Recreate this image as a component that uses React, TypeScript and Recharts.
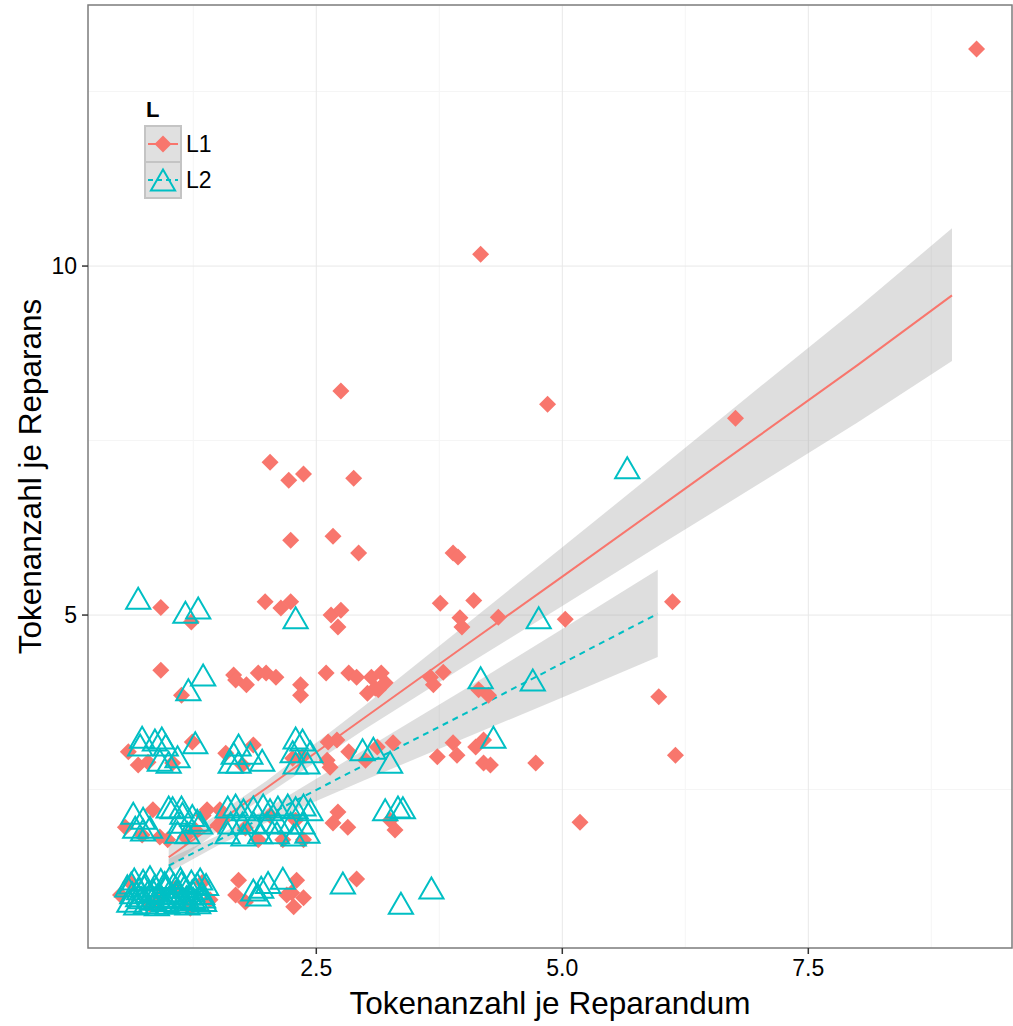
import {
  ComposedChart,
  Scatter,
  Line,
  Area,
  XAxis,
  YAxis,
  CartesianGrid,
  ReferenceArea,
} from "recharts";

// L1 points (jittered)
const l1Points: [number, number][] = [
  [9.21, 13.11], [4.17, 10.17], [2.75, 8.21], [4.85, 8.02], [6.76, 7.82],
  [2.03, 7.19], [2.22, 6.93], [2.37, 7.02], [2.88, 6.96], [2.67, 6.13],
  [2.24, 6.07], [2.93, 5.89], [3.89, 5.89], [3.94, 5.83],
  [0.92, 5.11], [1.23, 4.9], [1.98, 5.19], [2.14, 5.1], [2.24, 5.19],
  [2.65, 5.0], [2.75, 5.07], [2.72, 4.83], [3.76, 5.17], [4.1, 5.21],
  [3.96, 4.96], [3.98, 4.83], [4.35, 4.97], [5.03, 4.94], [6.12, 5.19],
  [0.92, 4.21], [1.13, 3.85], [1.66, 4.14], [1.68, 4.07], [1.79, 4.0],
  [1.91, 4.17], [1.99, 4.17], [2.09, 4.11], [2.34, 4.0], [2.34, 3.85],
  [2.6, 4.17], [2.83, 4.17], [2.91, 4.11], [3.06, 4.11], [3.16, 4.17],
  [3.2, 4.03], [3.1, 3.95], [3.02, 3.88], [3.13, 3.93], [3.66, 4.11],
  [3.69, 4.0], [3.79, 4.18], [4.15, 3.93], [4.25, 3.85], [5.98, 3.83],
  [0.59, 3.04], [0.69, 2.85], [0.79, 2.89], [1.04, 2.88], [1.24, 3.18],
  [1.58, 3.02], [1.86, 3.14], [1.75, 2.85], [2.26, 2.95], [2.36, 2.97],
  [2.62, 3.18], [2.71, 3.21], [2.61, 2.92], [2.64, 2.82], [2.83, 3.04],
  [3.0, 2.92], [3.12, 3.11], [3.28, 3.17], [3.73, 2.97], [3.89, 3.17],
  [3.93, 2.99], [4.12, 3.11], [4.2, 3.21], [4.2, 2.88], [4.27, 2.85],
  [4.73, 2.88], [6.15, 2.99],
  [0.84, 2.21], [0.56, 1.96], [0.73, 1.85], [0.91, 1.82], [0.99, 1.78],
  [1.17, 1.82], [1.35, 2.13], [1.39, 2.21], [1.5, 1.99], [1.27, 1.92],
  [1.55, 2.06], [1.52, 2.21], [1.91, 1.78], [2.16, 1.78], [2.37, 1.78],
  [2.03, 2.13], [1.78, 1.95], [2.29, 2.06], [2.72, 2.18], [2.67, 2.02],
  [2.82, 1.96], [3.25, 2.06], [3.3, 1.92], [5.18, 2.03],
  [1.71, 1.2], [1.68, 0.99], [1.78, 0.89], [2.3, 1.2], [2.25, 1.02],
  [2.27, 0.82], [2.37, 0.95], [2.2, 0.99], [2.91, 1.22], [0.61, 1.17],
  [1.34, 1.17], [0.81, 0.85], [1.22, 0.8], [1.07, 1.09], [0.51, 0.99],
  [0.91, 0.95], [1.42, 0.92],
];

// L2 points (jittered)
const l2Points: [number, number][] = [
  [5.66, 7.11],
  [0.69, 5.24], [1.17, 5.04], [1.3, 5.1], [2.29, 4.96], [4.76, 4.96],
  [1.35, 4.14], [1.2, 3.93], [4.17, 4.1], [4.7, 4.07],
  [0.73, 3.25], [0.71, 3.14], [0.86, 3.21], [0.93, 3.24], [0.97, 3.14],
  [0.91, 2.92], [1.0, 2.89], [1.09, 2.97], [1.27, 3.17], [1.71, 3.14],
  [1.66, 3.02], [1.63, 2.89], [1.71, 2.89], [1.83, 3.02], [1.95, 2.92],
  [2.29, 3.24], [2.36, 3.21], [2.26, 3.04], [2.29, 2.88], [2.41, 2.88],
  [2.44, 3.04], [2.97, 3.07], [3.08, 3.09], [3.25, 2.89], [4.3, 3.25],
  [0.64, 2.16], [0.74, 2.09], [0.66, 1.96], [0.81, 1.96], [0.74, 1.92],
  [1.0, 2.25], [1.04, 2.24], [1.13, 2.25], [1.14, 2.16], [1.24, 2.13],
  [1.12, 2.03], [1.09, 1.89], [1.19, 1.88], [1.29, 2.06], [1.32, 2.02],
  [1.6, 2.25], [1.68, 2.28], [1.76, 2.21], [1.86, 2.25], [1.96, 2.28],
  [2.03, 2.21], [2.11, 2.25], [2.21, 2.28], [2.29, 2.24], [2.37, 2.28],
  [2.44, 2.21], [1.63, 2.02], [1.75, 2.02], [1.86, 2.03], [2.0, 2.02],
  [2.11, 2.03], [2.24, 2.02], [2.36, 2.02], [1.6, 1.88], [1.76, 1.85],
  [1.93, 1.88], [2.1, 1.88], [2.27, 1.85], [2.41, 1.89], [3.2, 2.21],
  [3.33, 2.25], [3.38, 2.24],
  [1.86, 1.06], [1.94, 1.1], [2.01, 1.17], [2.16, 1.23], [1.91, 0.99],
  [2.77, 1.16], [3.36, 0.87], [3.67, 1.09],
  [0.58, 1.12], [0.6, 0.9], [0.63, 1.02], [0.65, 1.22], [0.67, 0.86],
  [0.7, 1.08], [0.72, 0.95], [0.74, 1.2], [0.77, 0.88], [0.79, 1.04],
  [0.81, 1.25], [0.83, 0.93], [0.86, 1.13], [0.88, 0.85], [0.9, 1.01],
  [0.92, 1.21], [0.95, 0.91], [0.97, 1.1], [0.99, 0.87], [1.01, 1.24],
  [1.03, 0.97], [1.05, 1.15], [1.08, 0.89], [1.1, 1.05], [1.12, 1.23],
  [1.14, 0.92], [1.16, 1.11], [1.19, 0.86], [1.21, 1.0], [1.23, 1.19],
  [1.25, 0.94], [1.27, 1.08], [1.3, 0.88], [1.32, 1.22], [1.34, 1.01],
  [1.36, 0.91], [1.38, 1.14], [0.69, 0.98], [0.84, 1.06], [0.96, 1.17],
  [1.07, 1.02], [1.18, 0.96], [1.29, 1.15], [0.75, 1.12], [1.0, 0.95],
  [1.24, 1.05], [0.62, 1.16], [0.89, 0.97], [1.13, 1.17], [1.35, 0.96],
];

// linear fits with confidence band: [x, fit, lower, upper]
const l1Fit: [number, number, number, number][] = [
  [1, 1.53, 1.37, 1.69],
  [1.5, 2.03, 1.91, 2.15],
  [2, 2.53, 2.43, 2.63],
  [3, 3.54, 3.37, 3.71],
  [4, 4.55, 4.26, 4.84],
  [5, 5.55, 5.13, 5.97],
  [6, 6.56, 6.01, 7.11],
  [7, 7.57, 6.88, 8.26],
  [8, 8.58, 7.76, 9.4],
  [8.96, 9.58, 8.64, 10.54],
];

const l2Fit: [number, number, number, number][] = [
  [1, 1.41, 1.31, 1.51],
  [1.5, 1.77, 1.7, 1.84],
  [2, 2.13, 2.03, 2.23],
  [3, 2.86, 2.64, 3.08],
  [4, 3.58, 3.23, 3.93],
  [5, 4.31, 3.82, 4.8],
  [5.97, 5.02, 4.4, 5.65],
];

const xTicks = [2.5, 5, 7.5];
const yTicks = [5, 10];
const xMinor = [1.25, 3.75, 6.25, 8.75];
const yMinor = [2.5, 7.5, 12.5];

const RED = "#F8766D";
const TEAL = "#00BFC4";
const FONT = "'Liberation Sans', Arial, Helvetica, sans-serif";
const X_DOMAIN = [0.18, 9.57];
const Y_DOMAIN = [0.23, 13.74];

const toPts = (arr: [number, number][]) => arr.map(([x, y]) => ({ x, y }));
const toFit = (arr: [number, number, number, number][]) =>
  arr.map(([x, y, lo, hi]) => ({ x, y, band: [lo, hi] }));

const Diamond = (props: any) => {
  const { cx, cy } = props;
  const r = 8.5;
  return (
    <path
      d={`M${cx},${cy - r}L${cx + r},${cy}L${cx},${cy + r}L${cx - r},${cy}Z`}
      fill={RED}
    />
  );
};

const Triangle = (props: any) => {
  const { cx, cy } = props;
  return (
    <path
      d={`M${cx},${cy - 10.5}L${cx + 12.1},${cy + 10.5}L${cx - 12.1},${cy + 10.5}Z`}
      fill="none"
      stroke={TEAL}
      strokeWidth={2}
    />
  );
};

function LegendBox() {
  return (
    <svg
      width={240}
      height={210}
      style={{ position: "absolute", left: 0, top: 0, pointerEvents: "none" }}
    >
      <text x={146} y={117} fontFamily={FONT} fontSize={22} fontWeight="bold">
        L
      </text>
      <rect x={145} y={126} width={36} height={36} fill="#E0E0E0" stroke="#C4C4C4" strokeWidth={2} />
      <rect x={145} y={162} width={36} height={36} fill="#E0E0E0" stroke="#C4C4C4" strokeWidth={2} />
      <line x1={148} x2={178} y1={144} y2={144} stroke={RED} strokeWidth={2} />
      <path d="M163,135.5L171.5,144L163,152.5L154.5,144Z" fill={RED} />
      <line x1={148} x2={178} y1={180} y2={180} stroke={TEAL} strokeWidth={2} strokeDasharray="5 4" />
      <path d="M163,169.5L175.1,190.5L150.9,190.5Z" fill="none" stroke={TEAL} strokeWidth={2} />
      <text x={186} y={152} fontFamily={FONT} fontSize={23}>
        L1
      </text>
      <text x={186} y={188} fontFamily={FONT} fontSize={23}>
        L2
      </text>
    </svg>
  );
}

export default function App() {
  return (
    <div style={{ position: "absolute", left: 0, top: 0, width: 1013, height: 1026, background: "#fff" }}>
      <ComposedChart
        width={1013}
        height={1026}
        margin={{ top: 5, right: 1, bottom: 0, left: 0 }}
      >
        <CartesianGrid
          stroke="#F5F5F5"
          strokeWidth={1}
          verticalValues={xMinor}
          horizontalValues={yMinor}
        />
        <CartesianGrid stroke="#E8E8E8" strokeWidth={1} />
        <XAxis
          type="number"
          dataKey="x"
          domain={X_DOMAIN}
          allowDataOverflow
          ticks={xTicks}
          tickFormatter={(v: number) => v.toFixed(1)}
          height={78}
          tickSize={6}
          tickMargin={6}
          axisLine={false}
          tickLine={{ stroke: "#333", strokeWidth: 1.5 }}
          tick={{ fill: "#000", fontSize: 23, fontFamily: FONT }}
          label={{
            value: "Tokenanzahl je Reparandum",
            position: "insideBottom",
            offset: 12,
            style: { fill: "#000", fontSize: 31.5, fontFamily: FONT },
          }}
        />
        <YAxis
          type="number"
          dataKey="y"
          domain={Y_DOMAIN}
          allowDataOverflow
          ticks={yTicks}
          width={88}
          tickSize={6}
          tickMargin={5}
          axisLine={false}
          tickLine={{ stroke: "#333", strokeWidth: 1.5 }}
          tick={{ fill: "#000", fontSize: 23, fontFamily: FONT }}
          label={{
            value: "Tokenanzahl je Reparans",
            angle: -90,
            position: "insideLeft",
            offset: 30,
            style: { fill: "#000", fontSize: 31.5, fontFamily: FONT, textAnchor: "middle" },
          }}
        />
        <Scatter data={toPts(l1Points)} shape={Diamond} isAnimationActive={false} />
        <Scatter data={toPts(l2Points)} shape={Triangle} isAnimationActive={false} />
        <Area
          data={toFit(l1Fit)}
          dataKey="band"
          type="linear"
          stroke="none"
          fill="#999999"
          fillOpacity={0.32}
          isAnimationActive={false}
          activeDot={false}
        />
        <Line
          data={toFit(l1Fit)}
          dataKey="y"
          type="linear"
          stroke={RED}
          strokeWidth={2}
          dot={false}
          activeDot={false}
          isAnimationActive={false}
        />
        <Area
          data={toFit(l2Fit)}
          dataKey="band"
          type="linear"
          stroke="none"
          fill="#999999"
          fillOpacity={0.32}
          isAnimationActive={false}
          activeDot={false}
        />
        <Line
          data={toFit(l2Fit)}
          dataKey="y"
          type="linear"
          stroke={TEAL}
          strokeWidth={2}
          strokeDasharray="6 5"
          dot={false}
          activeDot={false}
          isAnimationActive={false}
        />
        <ReferenceArea
          x1={X_DOMAIN[0]}
          x2={X_DOMAIN[1]}
          y1={Y_DOMAIN[0]}
          y2={Y_DOMAIN[1]}
          fill="none"
          stroke="#7F7F7F"
          strokeWidth={1.5}
          ifOverflow="visible"
        />
      </ComposedChart>
      <LegendBox />
    </div>
  );
}
